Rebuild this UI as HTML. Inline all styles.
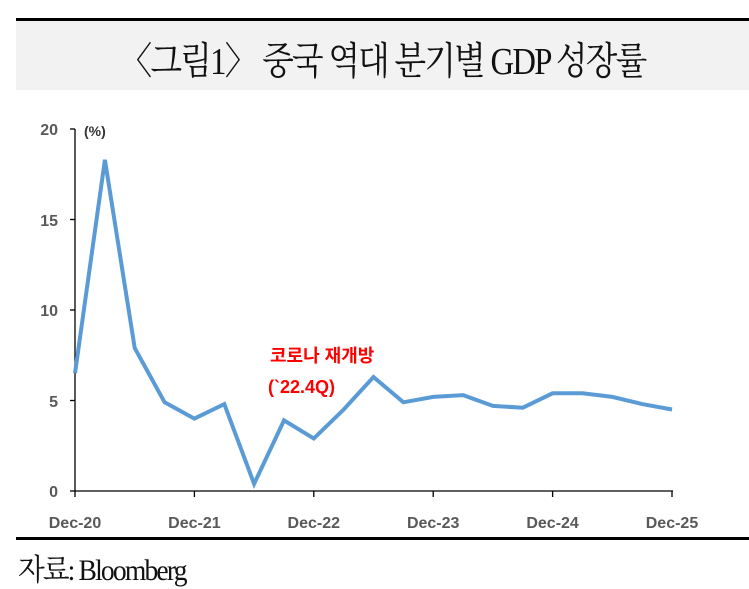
<!DOCTYPE html>
<html><head><meta charset="utf-8"><style>
body{margin:0;background:#fff;width:749px;height:584px;overflow:hidden;position:relative}
.top{position:absolute;left:16px;top:18px;width:733px;height:3px;background:#000}
.band{position:absolute;left:16px;top:21px;width:733px;height:69px;background:#f2f2f2}
.title{position:absolute;left:16px;width:733px;top:30px;text-align:center;font-family:"Liberation Serif","Noto Serif CJK SC",serif;font-size:38px;color:#111;letter-spacing:-2px;transform:scaleX(0.86);transform-origin:center}
.bot{position:absolute;left:16px;top:537px;width:733px;height:3px;background:#000}
.src{position:absolute;left:18px;top:545px;font-family:"Liberation Serif","Noto Serif CJK SC",serif;font-size:30px;letter-spacing:-2px;color:#111;transform:scaleX(0.92);transform-origin:left}
</style></head><body>
<div class="top"></div><div class="band"></div>
<div class="title">〈그림1〉 중국 역대 분기별 GDP 성장률</div>
<svg style="position:absolute;left:0;top:0" width="749" height="584" font-family="'Liberation Sans',sans-serif">
<g stroke="#000" stroke-width="1.3">
<line x1="75" y1="129" x2="75" y2="491"/>
<line x1="75" y1="491" x2="673" y2="491"/>
<line x1="70" y1="129" x2="75" y2="129"/><line x1="70" y1="219.5" x2="75" y2="219.5"/><line x1="70" y1="310" x2="75" y2="310"/><line x1="70" y1="400.5" x2="75" y2="400.5"/><line x1="70" y1="491" x2="75" y2="491"/>
<line x1="75" y1="491" x2="75" y2="497"/><line x1="194.4" y1="491" x2="194.4" y2="497"/><line x1="313.8" y1="491" x2="313.8" y2="497"/><line x1="433.2" y1="491" x2="433.2" y2="497"/><line x1="552.6" y1="491" x2="552.6" y2="497"/><line x1="672" y1="491" x2="672" y2="497"/>
</g>
<g fill="#595959" font-size="16" font-weight="bold" text-anchor="end">
<text x="58" y="135">20</text><text x="58" y="226">15</text><text x="58" y="316">10</text><text x="58" y="407">5</text><text x="58" y="497">0</text>
</g>
<text x="84" y="136" font-size="14" fill="#333" font-weight="bold">(%)</text>
<g fill="#595959" font-size="16" font-weight="bold" text-anchor="middle">
<text x="75" y="528">Dec-20</text><text x="194.4" y="528">Dec-21</text><text x="313.8" y="528">Dec-22</text><text x="433.2" y="528">Dec-23</text><text x="552.6" y="528">Dec-24</text><text x="672" y="528">Dec-25</text>
</g>
<polyline fill="none" stroke="#5b9bd5" stroke-width="4" stroke-linejoin="miter" points="75,373.3 104.9,159.8 134.7,348 164.6,402.3 194.4,418.6 224.3,404.1 254.1,483.8 284,420.4 313.8,438.5 343.7,409.5 373.5,377 403.4,402.3 433.2,396.9 463.1,395.1 492.9,405.9 522.8,407.7 552.6,393.3 582.5,393.3 612.3,396.9 642.2,404.1 672,409.5"/>
<g fill="#ff0000" font-size="18" font-weight="bold" font-family="'Liberation Sans','Noto Sans CJK KR',sans-serif">
<text x="270" y="362">코로나 재개방</text>
<text x="268" y="393">(`22.4Q)</text>
</g>
</svg>
<div class="bot"></div>
<div class="src">자료: Bloomberg</div>
</body></html>
